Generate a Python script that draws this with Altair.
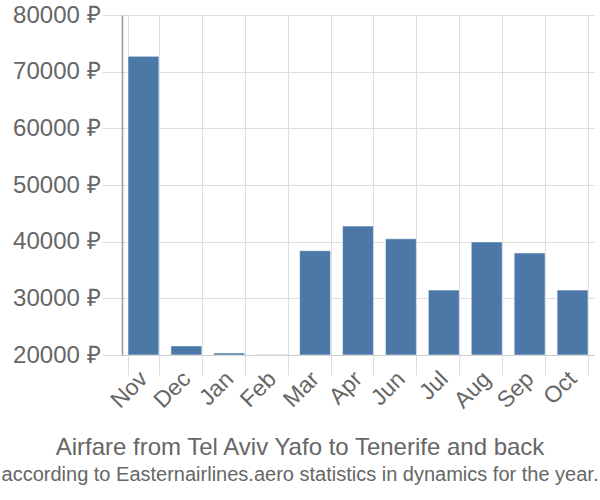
import altair as alt
import pandas as pd

months = ["Nov", "Dec", "Jan", "Feb", "Mar", "Apr", "Jun", "Jul", "Aug", "Sep", "Oct"]
prices = [72700, 21600, 20350, 20080, 38400, 42750, 40500, 31450, 39950, 38000, 31450]
y_ticks = [20000, 30000, 40000, 50000, 60000, 70000, 80000]

df = pd.DataFrame({"month": months, "price": prices})

FONT = "Liberation Sans"
GRAY = "#666666"

chart = alt.Chart(df).mark_bar(color="#4c78a8", stroke="#ffffff", strokeWidth=0.5).encode(
    x=alt.X("month:N", sort=months, title=None,
            scale=alt.Scale(paddingInner=0.28, paddingOuter=0.14),
            axis=alt.Axis(labelAngle=-45, labelAlign="right", labelBaseline="middle",
                          labelFontSize=23, labelFont=FONT, labelColor=GRAY,
                          labelPadding=0,
                          grid=True, gridColor="#dddddd", bandPosition=0,
                          tickColor="#dddddd", tickSize=20, tickBand="extent",
                          domain=True, domainColor="#cccccc")),
    y=alt.Y("price:Q", title=None,
            scale=alt.Scale(domain=[20000, 80000], zero=False, nice=False),
            axis=alt.Axis(values=y_ticks, labelExpr="datum.value + ' ₽'",
                          labelFontSize=24, labelFont=FONT, labelColor=GRAY,
                          labelPadding=2,
                          gridColor="#dddddd", tickColor="#dddddd", tickSize=20,
                          domainColor="#999999", domainWidth=1.5)),
    y2=alt.Y2(datum=20000),
).properties(
    width=472,
    height=340,
    title=alt.TitleParams(
        text="Airfare from Tel Aviv Yafo to Tenerife and back",
        subtitle="according to Easternairlines.aero statistics in dynamics for the year.",
        orient="bottom", anchor="middle", dx=-58, offset=24,
        font=FONT, fontSize=24, fontWeight="normal", color=GRAY,
        subtitleFont=FONT, subtitleFontSize=20, subtitleColor=GRAY,
        subtitlePadding=5,
    ),
    autosize="none",
    padding={"left": 122, "top": 15, "right": 6, "bottom": 145},
).configure_view(stroke=None)

chart.save("out.html", embed_options={"renderer": "svg", "actions": False})
